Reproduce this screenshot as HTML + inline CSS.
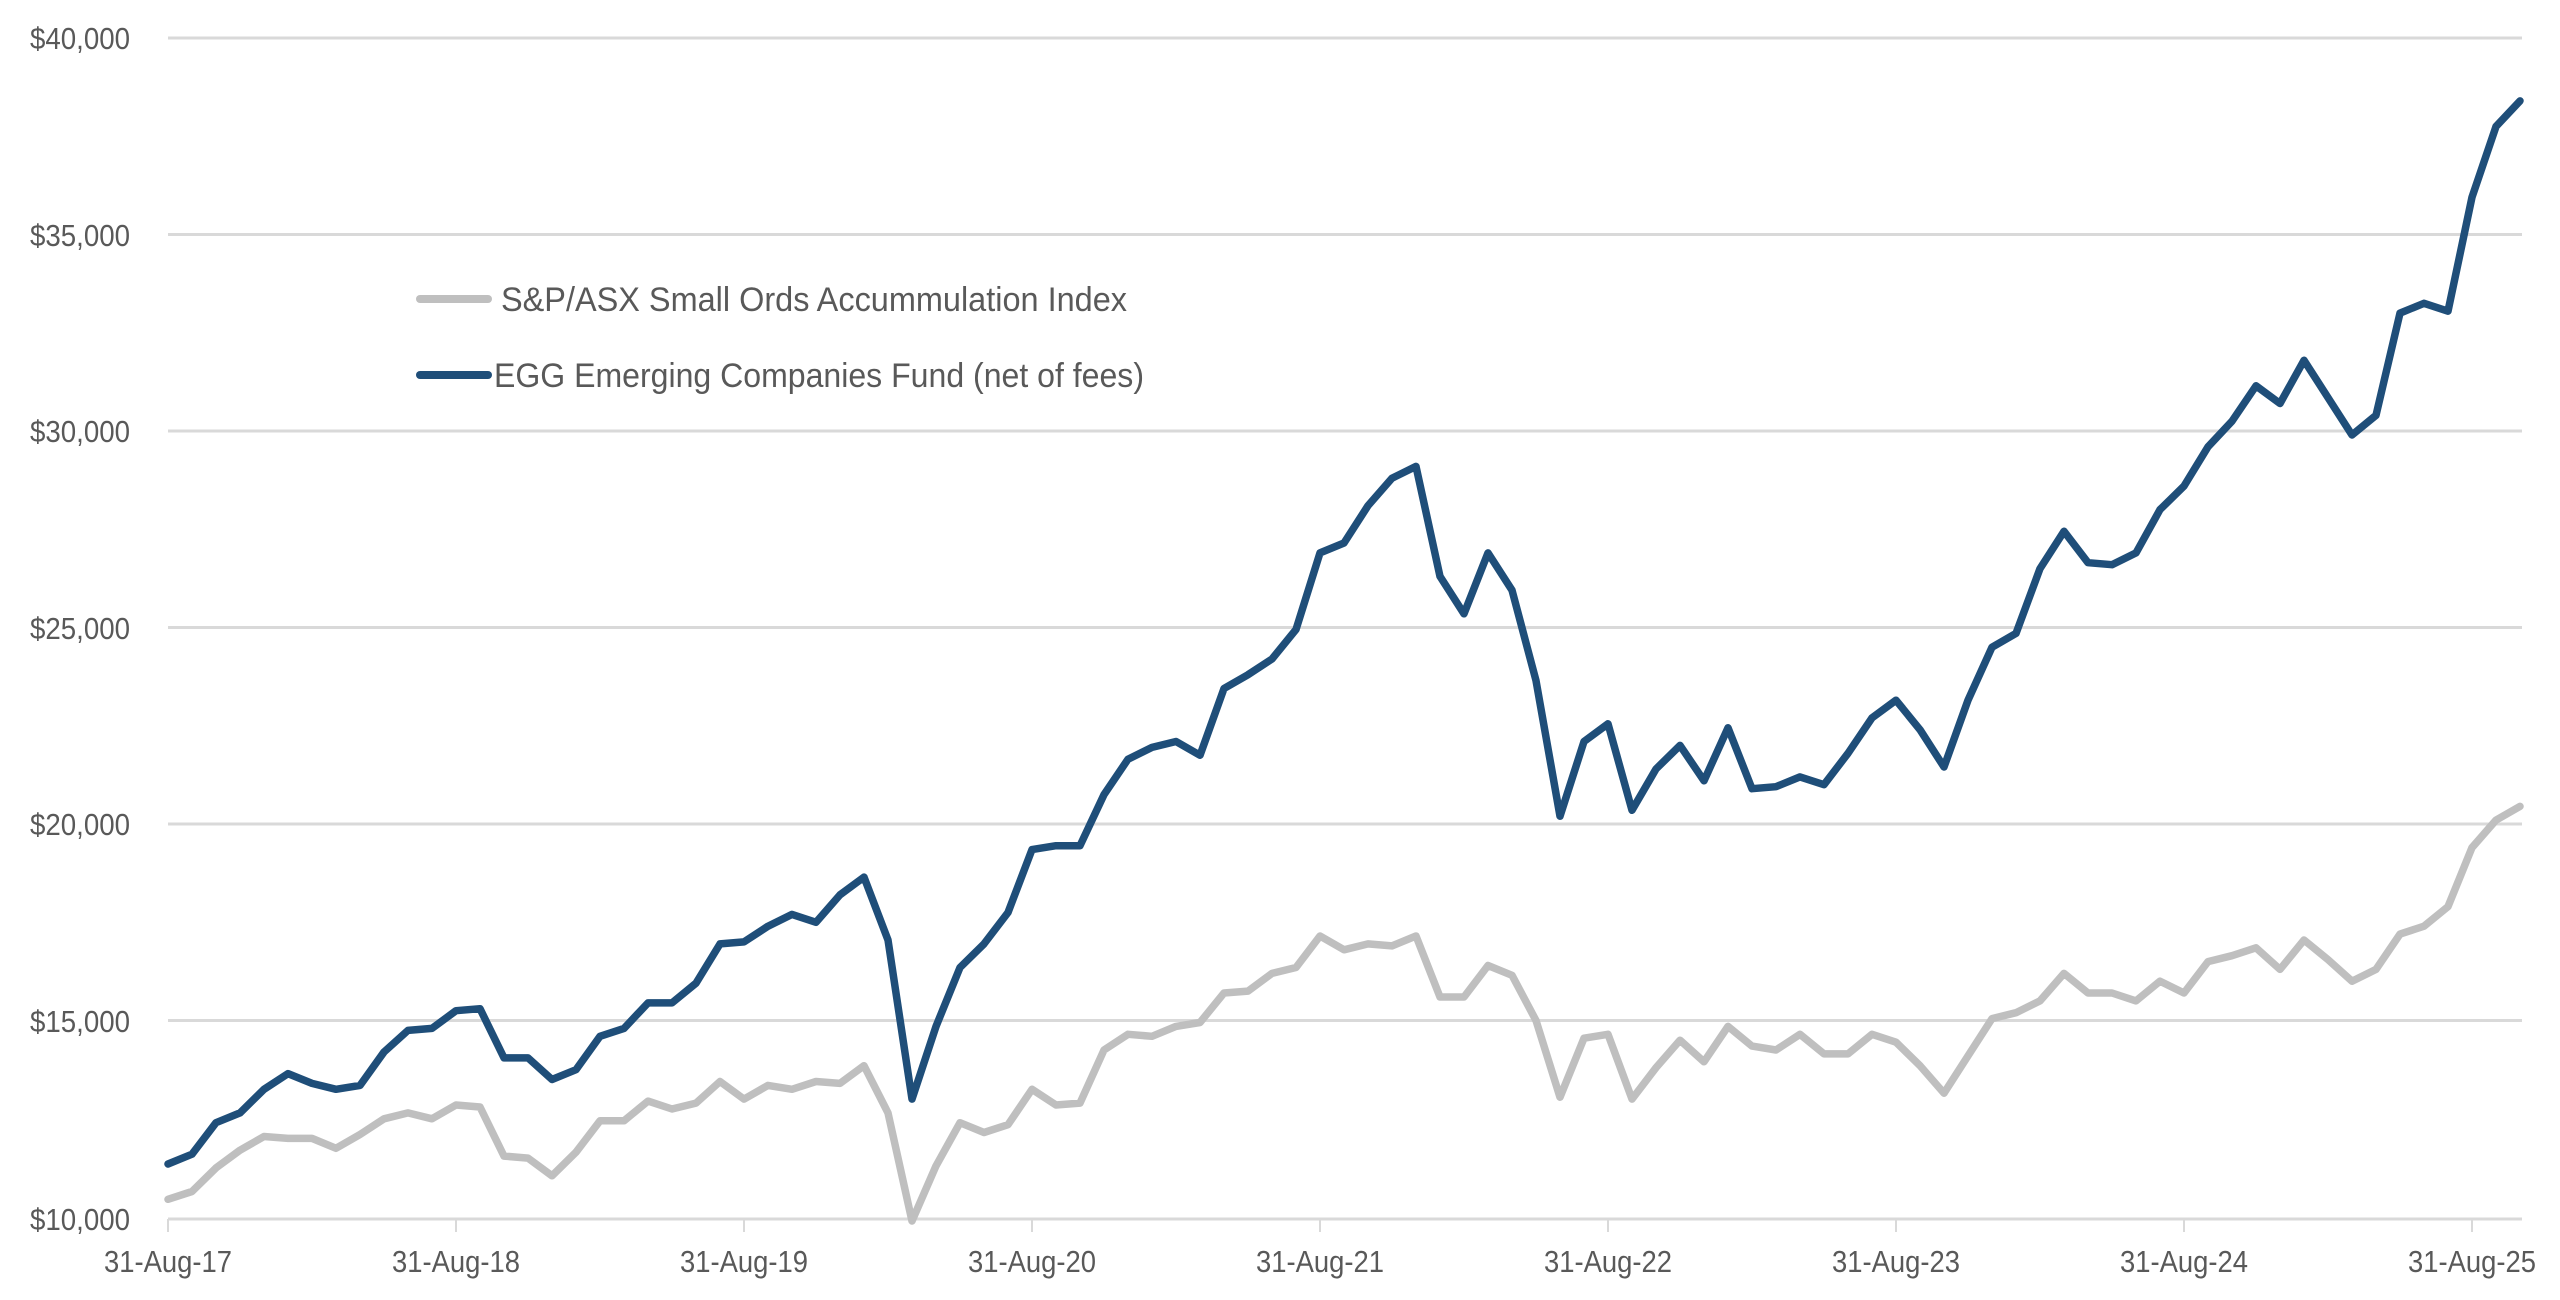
<!DOCTYPE html>
<html><head><meta charset="utf-8"><style>
html,body{margin:0;padding:0;background:#fff;width:2560px;height:1300px;overflow:hidden}
text{font-family:"Liberation Sans",sans-serif;fill:#595959}
</style></head><body>
<svg id="s" width="2560" height="1300" xmlns="http://www.w3.org/2000/svg">
<g stroke="#d9d9d9" stroke-width="3">
<line x1="168" y1="38" x2="2522" y2="38"/>
<line x1="168" y1="234.5" x2="2522" y2="234.5"/>
<line x1="168" y1="431" x2="2522" y2="431"/>
<line x1="168" y1="627.5" x2="2522" y2="627.5"/>
<line x1="168" y1="824" x2="2522" y2="824"/>
<line x1="168" y1="1020.5" x2="2522" y2="1020.5"/>
<line x1="168" y1="1219" x2="2522" y2="1219"/>
</g>
<g id="ticks" stroke="#d9d9d9" stroke-width="2"></g>
<g font-size="31" text-anchor="end">
<text x="130" y="49" textLength="100" lengthAdjust="spacingAndGlyphs">$40,000</text>
<text x="130" y="246" textLength="100" lengthAdjust="spacingAndGlyphs">$35,000</text>
<text x="130" y="442" textLength="100" lengthAdjust="spacingAndGlyphs">$30,000</text>
<text x="130" y="639" textLength="100" lengthAdjust="spacingAndGlyphs">$25,000</text>
<text x="130" y="835" textLength="100" lengthAdjust="spacingAndGlyphs">$20,000</text>
<text x="130" y="1032" textLength="100" lengthAdjust="spacingAndGlyphs">$15,000</text>
<text x="130" y="1230" textLength="100" lengthAdjust="spacingAndGlyphs">$10,000</text>
</g>
<g id="xl" font-size="31" text-anchor="middle"></g>
<polyline id="g" fill="none" stroke="#bfbfbf" stroke-width="7.5" stroke-linejoin="round" stroke-linecap="round"/>
<polyline id="b" fill="none" stroke="#1f4e79" stroke-width="7.5" stroke-linejoin="round" stroke-linecap="round"/>
<line x1="420" y1="299" x2="488" y2="299" stroke="#bfbfbf" stroke-width="8" stroke-linecap="round"/>
<line x1="420" y1="375" x2="488" y2="375" stroke="#1f4e79" stroke-width="8" stroke-linecap="round"/>
<text x="501" y="311" font-size="34" textLength="626" lengthAdjust="spacingAndGlyphs">S&amp;P/ASX Small Ords Accummulation Index</text>
<text x="494" y="387" font-size="34" textLength="650" lengthAdjust="spacingAndGlyphs">EGG Emerging Companies Fund (net of fees)</text>
</svg>
<script>
var egg=[11.4,11.65,12.45,12.7,13.3,13.7,13.45,13.3,13.4,14.25,14.8,14.85,15.3,15.35,14.1,14.1,13.55,13.8,14.65,14.85,15.5,15.5,16.0,17.0,17.05,17.45,17.75,17.55,18.25,18.7,17.1,13.05,14.9,16.4,17.0,17.8,19.4,19.5,19.5,20.8,21.7,22.0,22.15,21.8,23.5,23.85,24.25,25.0,26.95,27.2,28.15,28.85,29.15,26.35,25.4,26.95,26.0,23.7,20.25,22.15,22.6,20.4,21.45,22.05,21.15,22.5,20.95,21.0,21.25,21.05,21.85,22.75,23.2,22.45,21.5,23.2,24.55,24.9,26.55,27.5,26.7,26.65,26.95,28.05,28.65,29.65,30.3,31.2,30.75,31.85,30.9,29.95,30.45,33.05,33.3,33.1,36.0,37.8,38.45];
var idx=[10.5,10.7,11.3,11.75,12.1,12.05,12.05,11.8,12.15,12.55,12.7,12.55,12.9,12.85,11.6,11.55,11.1,11.7,12.5,12.5,13.0,12.8,12.95,13.5,13.05,13.4,13.3,13.5,13.45,13.9,12.7,9.95,11.35,12.45,12.2,12.4,13.3,12.9,12.95,14.3,14.7,14.65,14.9,15.0,15.75,15.8,16.25,16.4,17.2,16.85,17.0,16.95,17.2,15.65,15.65,16.45,16.2,15.05,13.1,14.6,14.7,13.05,13.85,14.55,14.0,14.9,14.4,14.3,14.7,14.2,14.2,14.7,14.5,13.9,13.2,14.15,15.1,15.25,15.55,16.25,15.75,15.75,15.55,16.05,15.75,16.55,16.7,16.9,16.35,17.1,16.6,16.05,16.35,17.25,17.45,17.95,19.45,20.15,20.5];
function pts(a){return a.map(function(v,i){return (168+i*24).toFixed(1)+","+(1219-(v-10)*39.3).toFixed(1)}).join(" ")}
document.getElementById("g").setAttribute("points",pts(idx));
document.getElementById("b").setAttribute("points",pts(egg));
var ns="http://www.w3.org/2000/svg",t=document.getElementById("ticks"),xl=document.getElementById("xl");
for(var y=0;y<=8;y++){var x=168+y*288;
var l=document.createElementNS(ns,"line");l.setAttribute("x1",x);l.setAttribute("x2",x);l.setAttribute("y1",1219);l.setAttribute("y2",1232);t.appendChild(l);
var tx=document.createElementNS(ns,"text");tx.setAttribute("x",x);tx.setAttribute("y",1272);tx.setAttribute("textLength",128);tx.setAttribute("lengthAdjust","spacingAndGlyphs");tx.textContent="31-Aug-"+(17+y);xl.appendChild(tx);}
</script>
</body></html>
